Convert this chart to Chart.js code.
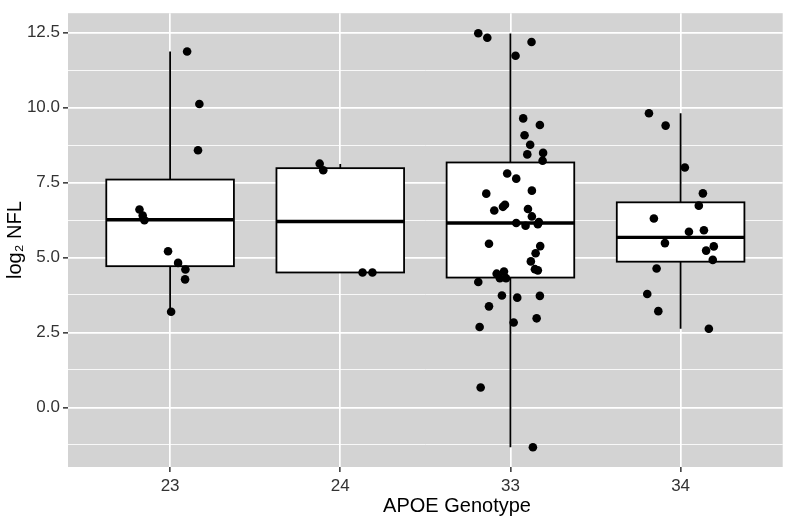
<!DOCTYPE html>
<html>
<head>
<meta charset="utf-8">
<script src="https://cdn.jsdelivr.net/npm/chart.js@4.4.1/dist/chart.umd.min.js"></script>
<style>
  html, body { margin: 0; padding: 0; background: #fff; }
</style>
</head>
<body>
<canvas id="chart" width="787" height="521"></canvas>
<script>
// Genotype categories
const genotypes = ['23', '24', '33', '34'];

// Box statistics (log2 NFL) per genotype
const lowerWhisker = [3.19, 4.50, -1.33, 2.62];
const q1 = [4.71, 4.50, 4.33, 4.86];
const median = [6.26, 6.20, 6.15, 5.67];
const q3 = [7.60, 7.98, 8.17, 6.84];
const upperWhisker = [11.87, 8.12, 12.47, 9.81];

// Jittered samples: horizontal jitter and value per genotype
const jitter23 = [0.100, 0.172, 0.164, -0.180, -0.161, -0.151, -0.012, 0.047, 0.090, 0.088, 0.006];
const values23 = [11.87, 10.12, 8.58, 6.60, 6.40, 6.24, 5.21, 4.82, 4.60, 4.27, 3.19];

const jitter24 = [-0.121, -0.100, 0.131, 0.189];
const values24 = [8.13, 7.91, 4.50, 4.50];

const jitter33 = [-0.189, -0.136, 0.124, 0.030, 0.075, 0.173, 0.083, 0.116, 0.099, 0.192, 0.189,
  -0.019, 0.034, -0.142, 0.126, -0.032, -0.044, -0.095, 0.103, 0.126, 0.034, 0.089, 0.167, 0.161,
  -0.126, 0.175, 0.148, 0.120, 0.144, 0.161, -0.081, -0.038, -0.062, -0.026, -0.189,
  -0.050, 0.040, 0.173, -0.126, 0.154, 0.019, -0.181, -0.175, 0.132];
const values33 = [12.48, 12.33, 12.19, 11.73, 9.64, 9.42, 9.08, 8.76, 8.44, 8.49, 8.23,
  7.80, 7.63, 7.13, 7.23, 6.76, 6.69, 6.57, 6.62, 6.37, 6.15, 6.06, 6.18, 6.11,
  5.46, 5.38, 5.14, 4.87, 4.61, 4.57, 4.46, 4.53, 4.31, 4.31, 4.18,
  3.73, 3.66, 3.72, 3.37, 2.97, 2.83, 2.68, 0.66, -1.33];

const jitter34 = [-0.186, -0.088, 0.025, 0.131, 0.107, -0.157, 0.049, 0.137, -0.092, 0.195, 0.150, 0.189, -0.141, -0.196, -0.131, 0.166];
const values34 = [9.81, 9.40, 8.00, 7.14, 6.73, 6.30, 5.86, 5.91, 5.48, 5.37, 5.23, 4.92, 4.63, 3.78, 3.21, 2.62];

// Y axis ticks (major every 2.5, minor in between)
const yTicks = [-1.25, 0, 1.25, 2.5, 3.75, 5, 6.25, 7.5, 8.75, 10, 11.25, 12.5];

const jitters = [jitter23, jitter24, jitter33, jitter34];
const values = [values23, values24, values33, values34];
const points = [];
values.forEach((vals, i) => vals.forEach((v, j) => points.push({ x: i + 1 + jitters[i][j], y: v })));

const isMajor = v => Math.abs(v / 2.5 - Math.round(v / 2.5)) < 1e-6;
const FONT = "'Liberation Sans', Arial, sans-serif";
const BOX_WIDTH = 0.75;

// grey panel behind the grid
const panelBg = {
  id: 'panelBg',
  beforeDraw(chart) {
    const { ctx, chartArea: a } = chart;
    ctx.save();
    ctx.fillStyle = '#d3d3d3';
    ctx.fillRect(a.left, a.top, a.right - a.left, a.bottom - a.top);
    ctx.restore();
  }
};

// boxes + whiskers, drawn through the chart scales
const boxes = {
  id: 'boxes',
  beforeDatasetsDraw(chart) {
    const { ctx, scales: { x, y } } = chart;
    ctx.save();
    ctx.strokeStyle = '#000';
    genotypes.forEach((g, i) => {
      const xc = x.getPixelForValue(i + 1);
      const xl = x.getPixelForValue(i + 1 - BOX_WIDTH / 2);
      const xr = x.getPixelForValue(i + 1 + BOX_WIDTH / 2);
      const yLo = y.getPixelForValue(lowerWhisker[i]);
      const yQ1 = y.getPixelForValue(q1[i]);
      const yMed = y.getPixelForValue(median[i]);
      const yQ3 = y.getPixelForValue(q3[i]);
      const yHi = y.getPixelForValue(upperWhisker[i]);
      ctx.lineWidth = 1.8;
      ctx.beginPath();
      ctx.moveTo(xc, yQ3); ctx.lineTo(xc, yHi);
      ctx.moveTo(xc, yQ1); ctx.lineTo(xc, yLo);
      ctx.stroke();
      ctx.fillStyle = '#fff';
      ctx.fillRect(xl, yQ3, xr - xl, yQ1 - yQ3);
      ctx.strokeRect(xl, yQ3, xr - xl, yQ1 - yQ3);
      ctx.lineWidth = 3.4;
      ctx.beginPath();
      ctx.moveTo(xl, yMed); ctx.lineTo(xr, yMed);
      ctx.stroke();
    });
    ctx.restore();
  }
};

// x axis title sits a little right of the panel centre in the original
const xTitle = {
  id: 'xTitle',
  afterDraw(chart) {
    const { ctx } = chart;
    ctx.save();
    ctx.font = `20px ${FONT}`;
    ctx.fillStyle = '#000';
    ctx.textAlign = 'center';
    ctx.textBaseline = 'middle';
    ctx.fillText('APOE Genotype', 457, 506);
    ctx.restore();
  }
};

new Chart(document.getElementById('chart'), {
  type: 'scatter',
  data: {
    datasets: [{
      data: points,
      pointRadius: 4.3,
      pointHoverRadius: 4.3,
      backgroundColor: '#000',
      borderWidth: 0
    }]
  },
  options: {
    responsive: false,
    animation: false,
    devicePixelRatio: 1,
    layout: { padding: { top: 3, right: 2, left: 0, bottom: 0 } },
    plugins: { legend: { display: false }, tooltip: { enabled: false } },
    scales: {
      x: {
        type: 'linear',
        min: 0.4,
        max: 4.6,
        afterBuildTicks: s => { s.ticks = genotypes.map((g, i) => ({ value: i + 1 })); },
        afterFit: s => { s.height = 54; },
        border: { display: false },
        grid: { color: '#fff', lineWidth: 1.7, tickColor: '#333', tickLength: 5, tickWidth: 1.5 },
        ticks: {
          padding: 4,
          color: '#333',
          font: { family: FONT, size: 17 },
          maxRotation: 0,
          callback: v => genotypes[Math.round(v) - 1]
        }
      },
      y: {
        min: -1.99,
        max: 13.15,
        afterBuildTicks: s => { s.ticks = yTicks.map(v => ({ value: v })); },
        afterFit: s => { s.width = 68; },
        border: { display: false },
        grid: {
          color: '#fff',
          lineWidth: c => isMajor(c.tick.value) ? 1.7 : 0.85,
          tickColor: c => isMajor(c.tick.value) ? '#333' : 'rgba(0,0,0,0)',
          tickLength: 5,
          tickWidth: 1.5
        },
        ticks: {
          padding: 3,
          color: '#333',
          font: { family: FONT, size: 17 },
          callback: v => isMajor(v) ? v.toFixed(1) : ''
        },
        title: {
          display: true,
          text: 'log\u2082 NFL',
          color: '#000',
          font: { family: FONT, size: 20 },
          padding: { top: 3, bottom: 0 }
        }
      }
    }
  },
  plugins: [panelBg, boxes, xTitle]
});
</script>
</body>
</html>
